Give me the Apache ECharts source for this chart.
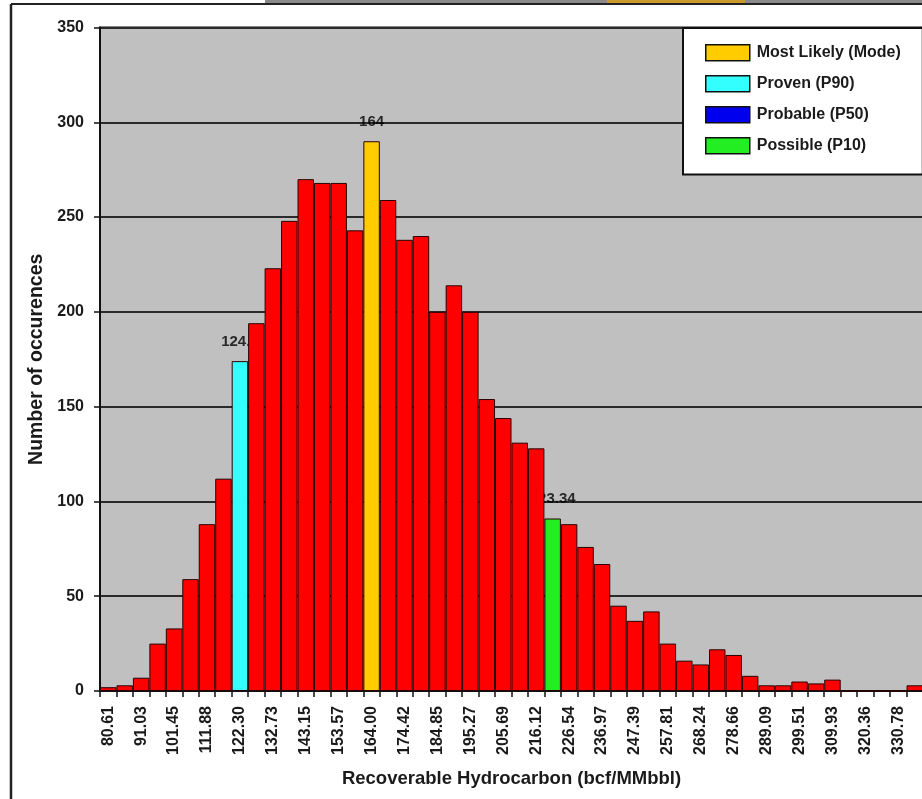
<!DOCTYPE html>
<html>
<head>
<meta charset="utf-8">
<script src="https://cdn.jsdelivr.net/npm/echarts@6/dist/echarts.min.js"></script>
<style>
html,body{margin:0;padding:0;background:#fff;}
#chart{width:922px;height:799px;}
</style>
</head>
<body>
<div id="chart"></div>
<script>
// Bin labels (class centres), one per bar
const categories = [
  '80.61','85.82','91.03','96.24','101.45','106.67','111.88','117.09','122.30','127.51',
  '132.73','137.94','143.15','148.36','153.57','158.79','164.00','169.21','174.42','179.64',
  '184.85','190.06','195.27','200.48','205.69','210.91','216.12','221.33','226.54','231.76',
  '236.97','242.18','247.39','252.60','257.81','263.03','268.24','273.45','278.66','283.88',
  '289.09','294.30','299.51','304.72','309.93','315.15','320.36','325.57','330.78','335.99'
];
// Number of occurences per bin
const counts = [
  2, 3, 7, 25, 33, 59, 88, 112, 174, 194,
  223, 248, 270, 268, 268, 243, 290, 259, 238, 240,
  200, 214, 200, 154, 144, 131, 128, 91, 88, 76,
  67, 45, 37, 42, 25, 16, 14, 22, 19, 8,
  3, 3, 5, 4, 6, 0, 0, 0, 0, 3
];
// Highlighted bins
const modeIndex = 16;      // Most Likely (Mode)
const p90Index = 8;        // Proven (P90)
const p10Index = 27;       // Possible (P10)
const p50Indices = [];     // Probable (P50) - no bar drawn in the reference
// Annotation texts over the highlighted bins
const annotations = [
  { index: 8, text: '124.8' },
  { index: 16, text: '164' },
  { index: 27, text: '223.34' }
];
const yTicks = { min: 0, max: 350, step: 50 };

const highlighted = [modeIndex, p90Index, p10Index].concat(p50Indices);
const onlyAt = (idxs) => counts.map((v, i) => idxs.indexOf(i) >= 0 ? v : '-');
const redData = counts.map((v, i) => highlighted.indexOf(i) >= 0 ? '-' : v);

const FONT = '"Liberation Sans", Arial, sans-serif';
const border = { borderColor: '#2a0000', borderWidth: 1 };

const chart = echarts.init(document.getElementById('chart'), null, { renderer: 'canvas' });
chart.setOption({
  backgroundColor: '#ffffff',
  animation: false,
  textStyle: { fontFamily: FONT },
  graphic: [
    { type: 'rect', shape: { x: 265, y: 0, width: 657, height: 3 }, style: { fill: '#8a8a8a' }, silent: true },
    { type: 'rect', shape: { x: 607, y: 0, width: 138, height: 3 }, style: { fill: '#c9992a' }, silent: true },
    { type: 'line', shape: { x1: 11, y1: 4, x2: 922, y2: 4 }, style: { stroke: '#222', lineWidth: 2 }, silent: true },
    { type: 'line', shape: { x1: 11, y1: 4, x2: 11, y2: 799 }, style: { stroke: '#222', lineWidth: 2.5 }, silent: true }
  ],
  grid: {
    left: 100, top: 27.5, right: -1, bottom: 108,
    show: true, backgroundColor: '#c0c0c0', borderColor: '#111', borderWidth: 2,
    containLabel: false, outerBoundsMode: 'none'
  },
  legend: {
    orient: 'vertical',
    left: 683, top: 28,
    data: ['Most Likely (Mode)', 'Proven (P90)', 'Probable (P50)', 'Possible (P10)'],
    backgroundColor: '#ffffff',
    borderColor: '#111', borderWidth: 2,
    padding: [16, 22, 20, 22],
    itemWidth: 44, itemHeight: 16, itemGap: 13.5,
    icon: 'rect',
    itemStyle: { borderColor: '#111', borderWidth: 1.5 },
    textStyle: { fontFamily: FONT, fontSize: 16, fontWeight: 'bold', color: '#1a1a1a', padding: [0, 0, 0, 2] },
    selectedMode: false
  },
  xAxis: {
    type: 'category',
    data: categories,
    boundaryGap: true,
    name: 'Recoverable Hydrocarbon (bcf/MMbbl)',
    nameLocation: 'middle',
    nameGap: 78,
    nameTextStyle: { fontFamily: FONT, fontSize: 18.5, fontWeight: 'bold', color: '#1a1a1a' },
    axisLine: { show: true, lineStyle: { color: '#111', width: 2 } },
    axisTick: { show: true, interval: 0, alignWithLabel: false, length: 6, inside: false, lineStyle: { color: '#111', width: 1.5 } },
    axisLabel: { interval: 1, rotate: 90, margin: 15, fontFamily: FONT, fontSize: 16, fontWeight: 'bold', color: '#1a1a1a' },
    splitLine: { show: false }
  },
  yAxis: {
    type: 'value',
    min: yTicks.min, max: yTicks.max, interval: yTicks.step,
    name: 'Number of occurences',
    nameLocation: 'middle',
    nameGap: 53,
    nameRotate: 90,
    nameTextStyle: { fontFamily: FONT, fontSize: 19.5, fontWeight: 'bold', color: '#1a1a1a' },
    axisLine: { show: true, lineStyle: { color: '#111', width: 2 } },
    axisTick: { show: true, length: 6, lineStyle: { color: '#111', width: 1.5 } },
    axisLabel: { margin: 16, fontFamily: FONT, fontSize: 16, fontWeight: 'bold', color: '#1a1a1a' },
    splitLine: { show: true, lineStyle: { color: '#2a2a2a', width: 1.8 } }
  },
  series: [
    {
      name: 'Occurences', type: 'bar', stack: 'h', data: redData,
      barCategoryGap: '0%', z: 2,
      itemStyle: Object.assign({ color: '#ff0000' }, border)
    },
    {
      name: 'Most Likely (Mode)', type: 'bar', stack: 'h', data: onlyAt([modeIndex]), z: 2,
      itemStyle: Object.assign({ color: '#ffcc00' }, border)
    },
    {
      name: 'Proven (P90)', type: 'bar', stack: 'h', data: onlyAt([p90Index]), z: 2,
      itemStyle: Object.assign({ color: '#33ffff' }, border)
    },
    {
      name: 'Probable (P50)', type: 'bar', stack: 'h', data: onlyAt(p50Indices), z: 2,
      itemStyle: Object.assign({ color: '#0000ee' }, border)
    },
    {
      name: 'Possible (P10)', type: 'bar', stack: 'h', data: onlyAt([p10Index]), z: 2,
      itemStyle: Object.assign({ color: '#22ee22' }, border)
    },
    {
      name: 'annot', type: 'scatter', z: 1, symbolSize: 0, silent: true,
      data: annotations.map(a => ({ value: [a.index, counts[a.index]], text: a.text })),
      label: {
        show: true, position: 'top', distance: 12,
        formatter: p => p.data.text,
        fontFamily: FONT, fontSize: 15, fontWeight: 'bold', color: '#000'
      }
    }
  ]
});
</script>
</body>
</html>
